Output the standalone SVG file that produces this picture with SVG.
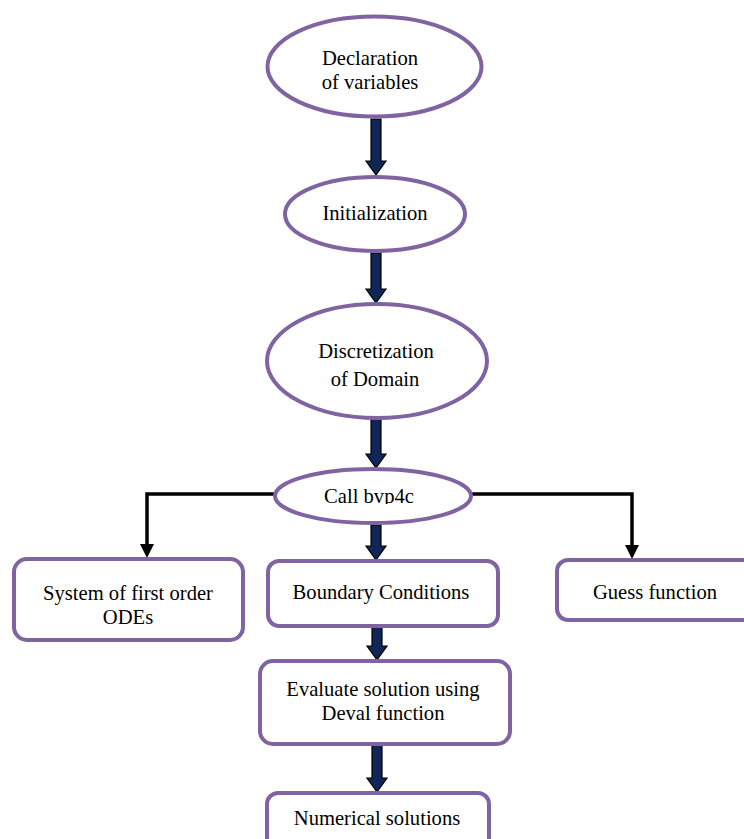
<svg xmlns="http://www.w3.org/2000/svg" width="744" height="839" viewBox="0 0 744 839">
<style>
.node{fill:#fff;stroke:#8064A2;stroke-width:4}
.t{font-family:"Liberation Serif","Times New Roman",serif;font-size:20.6px;fill:#000;text-anchor:middle}
.blk{fill:#0F2657;stroke:#000;stroke-width:1.2}
.line{fill:none;stroke:#000;stroke-width:3.5}
.head{fill:#000}
</style>
<defs>
<clipPath id="clipCall"><rect x="270" y="470" width="205" height="34"/></clipPath>
</defs>
<rect width="744" height="839" fill="#fff"/>
<g id="connectors">
<path class="blk" d="M371,119 H381 V161 H386 L376,175 L366,161 H371 Z"/>
<path class="blk" d="M371,253 H381 V289 H386 L376,303 L366,289 H371 Z"/>
<path class="blk" d="M371,419 H381 V454 H386 L376,468 L366,454 H371 Z"/>
<path class="blk" d="M371,525 H381 V546 H386 L376,560 L366,546 H371 Z"/>
<path class="blk" d="M372,627 H382 V646 H387 L377,660 L367,646 H372 Z"/>
<path class="blk" d="M372,745 H382 V778 H387 L377,792 L367,778 H372 Z"/>
<path class="line" d="M275,494 H147 V545"/>
<path class="head" d="M140,544 H154 L147,558 Z"/>
<path class="line" d="M471,494 H632 V546"/>
<path class="head" d="M625,545 H639 L632,559 Z"/>
</g>
<g id="declaration">
<ellipse class="node" cx="374.5" cy="66.5" rx="107" ry="50"/>
<text class="t" x="370" y="65">Declaration</text>
<text class="t" x="370" y="89">of variables</text>
</g>
<g id="initialization">
<ellipse class="node" cx="375" cy="214" rx="90" ry="37"/>
<text class="t" x="375" y="220">Initialization</text>
</g>
<g id="discretization">
<ellipse class="node" cx="377" cy="361" rx="110" ry="57"/>
<text class="t" x="376" y="358">Discretization</text>
<text class="t" x="375" y="386">of Domain</text>
</g>
<g id="callbvp4c">
<ellipse class="node" cx="373" cy="496" rx="98" ry="27"/>
<text class="t" x="369" y="503" clip-path="url(#clipCall)">Call bvp4c</text>
</g>
<g id="system">
<rect class="node" x="14" y="559" width="229" height="81" rx="13"/>
<text class="t" x="128" y="600">System of first order</text>
<text class="t" x="128" y="624">ODEs</text>
</g>
<g id="boundary">
<rect class="node" x="268" y="561" width="230" height="65" rx="11"/>
<text class="t" x="381" y="599">Boundary Conditions</text>
</g>
<g id="guess">
<rect class="node" x="557" y="560" width="200" height="60" rx="11"/>
<text class="t" x="655" y="599">Guess function</text>
</g>
<g id="evaluate">
<rect class="node" x="260" y="661" width="250" height="83" rx="13"/>
<text class="t" x="383" y="696">Evaluate solution using</text>
<text class="t" x="383" y="720">Deval function</text>
</g>
<g id="numerical">
<rect class="node" x="267" y="793" width="222" height="60" rx="11"/>
<text class="t" x="377" y="825">Numerical solutions</text>
</g>
</svg>
